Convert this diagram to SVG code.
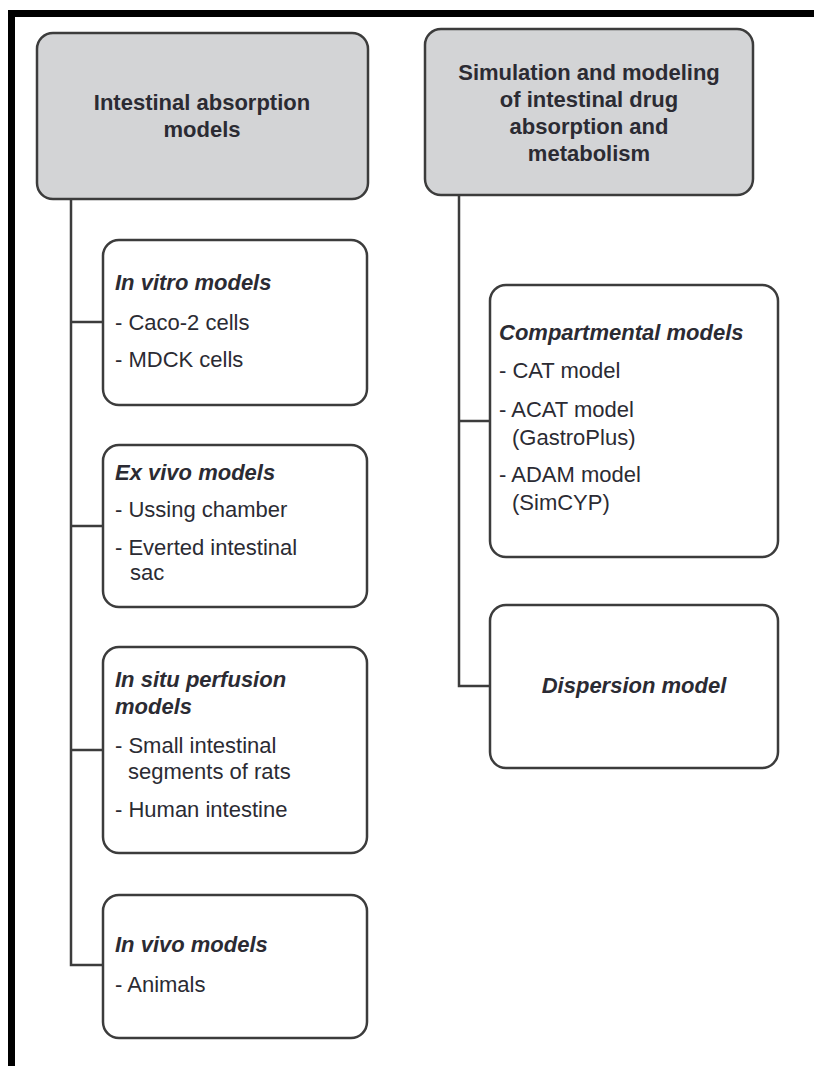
<svg xmlns="http://www.w3.org/2000/svg" width="814" height="1066" viewBox="0 0 814 1066">
<style>
.hdr{fill:#d3d4d6;stroke:#3c3c3c;stroke-width:2.5}
.box{fill:#ffffff;stroke:#3c3c3c;stroke-width:2.5}
.conn{fill:none;stroke:#3c3c3c;stroke-width:2.5}
text{font-family:"Liberation Sans",Arial,Helvetica,sans-serif;font-size:22px;fill:#2b2b33}
.h{font-weight:bold;text-anchor:middle}
.t{font-weight:bold;font-style:italic}
</style>
<rect x="0" y="0" width="814" height="1066" fill="#ffffff"/>
<g id="frame">
<rect x="8" y="10" width="806" height="7" fill="#000"/>
<rect x="8" y="10" width="7" height="1056" fill="#000"/>
</g>
<g id="connectors">
<path class="conn" d="M71 199 V965 H103 M71 322 H103 M71 526 H103 M71 750 H103"/>
<path class="conn" d="M459 195 V686 H490 M459 421 H490"/>
</g>
<g id="intestinal-absorption-models">
<rect class="hdr" x="37" y="33" width="331" height="166" rx="16"/>
<text class="h" x="202" y="110">Intestinal absorption</text>
<text class="h" x="202" y="137">models</text>
</g>
<g id="simulation-modeling">
<rect class="hdr" x="425" y="29" width="328" height="166" rx="16"/>
<text class="h" x="589" y="80">Simulation and modeling</text>
<text class="h" x="589" y="107">of intestinal drug</text>
<text class="h" x="589" y="134">absorption and</text>
<text class="h" x="589" y="161">metabolism</text>
</g>
<g id="in-vitro">
<rect class="box" x="103" y="240" width="264" height="165" rx="16"/>
<text class="t" x="115" y="290">In vitro models</text>
<text x="115" y="330">- Caco-2 cells</text>
<text x="115" y="367">- MDCK cells</text>
</g>
<g id="ex-vivo">
<rect class="box" x="103" y="445" width="264" height="162" rx="16"/>
<text class="t" x="115" y="480">Ex vivo models</text>
<text x="115" y="517">- Ussing chamber</text>
<text x="115" y="555">- Everted intestinal</text>
<text x="130" y="580">sac</text>
</g>
<g id="in-situ">
<rect class="box" x="103" y="647" width="264" height="206" rx="16"/>
<text class="t" x="115" y="687">In situ perfusion</text>
<text class="t" x="115" y="714">models</text>
<text x="115" y="753">- Small intestinal</text>
<text x="128" y="779">segments of rats</text>
<text x="115" y="817">- Human intestine</text>
</g>
<g id="in-vivo">
<rect class="box" x="103" y="895" width="264" height="143" rx="16"/>
<text class="t" x="115" y="952">In vivo models</text>
<text x="115" y="992">- Animals</text>
</g>
<g id="compartmental">
<rect class="box" x="490" y="285" width="288" height="272" rx="16"/>
<text class="t" x="499" y="340">Compartmental models</text>
<text x="499" y="378">- CAT model</text>
<text x="499" y="417">- ACAT model</text>
<text x="512" y="445">(GastroPlus)</text>
<text x="499" y="482">- ADAM model</text>
<text x="512" y="510">(SimCYP)</text>
</g>
<g id="dispersion">
<rect class="box" x="490" y="605" width="288" height="163" rx="16"/>
<text class="t" x="634" y="693" text-anchor="middle">Dispersion model</text>
</g>
</svg>
